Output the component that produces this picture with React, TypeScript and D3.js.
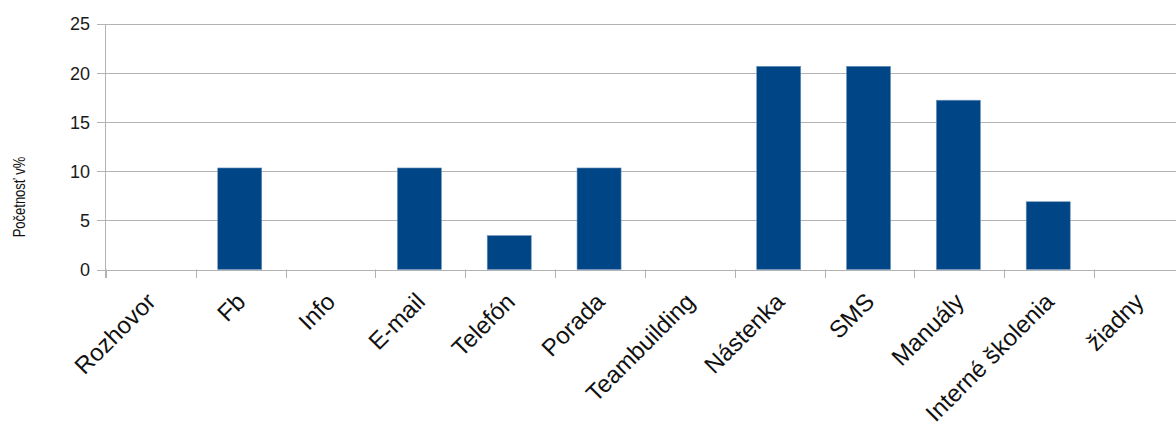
import React from "react";
import * as d3 from "d3";

const categories = ["Rozhovor", "Fb", "Info", "E-mail", "Telefón", "Porada", "Teambuilding", "Nástenka", "SMS", "Manuály", "Interné školenia", "žiadny"];
const values = [0, 10.34, 0, 10.34, 3.45, 10.34, 0, 20.69, 20.69, 17.24, 6.9, 0];
const yTicks = [0, 5, 10, 15, 20, 25];
const yTitle = "Početnosť v%";

const W = 1176;
const H = 428;
const left = 106;
const bandW = 89.83;
const top = 24;
const bottom = 269.5;

export default function App() {
  const x = d3.scaleBand<string>().domain(categories).range([left, left + bandW * categories.length]).paddingInner(0).paddingOuter(0);
  const y = d3.scaleLinear().domain([0, 25]).range([bottom, top]);
  const grid = "#b3b3b3";
  const font = "'Liberation Sans', Arial, sans-serif";
  const barW = x.bandwidth() * 0.49;
  const boundaries = categories.map((c) => x(c) as number).concat([left + bandW * categories.length]);
  return (
    <svg width={W} height={H} style={{ position: "absolute", left: 0, top: 0, display: "block" }} fontFamily={font}>
      <rect x={0} y={0} width={W} height={H} fill="#fff" />
      {yTicks.map((t) => (
        <g key={t}>
          <line x1={97} x2={W} y1={Math.round(y(t)) + 0.5} y2={Math.round(y(t)) + 0.5} stroke={grid} strokeWidth={1} />
          <text x={90} y={y(t)} dy="0.36em" textAnchor="end" fontSize={18} fill="#1a1a1a">{t}</text>
        </g>
      ))}
      <line x1={left - 0.5} x2={left - 0.5} y1={top} y2={bottom + 8.5} stroke={grid} strokeWidth={1} />
      {boundaries.map((b, i) => (
        <line key={i} x1={Math.round(b) + 0.5} x2={Math.round(b) + 0.5} y1={bottom} y2={bottom + 8.5} stroke={grid} strokeWidth={1} />
      ))}
      {categories.map((c, i) => {
        const cx = (x(c) as number) + x.bandwidth() / 2;
        const v = values[i];
        return v > 0 ? (
          <rect key={c} x={cx - barW / 2 - 1} y={y(v)} width={barW} height={y(0) - y(v)} fill="#004586" stroke="#6f93b8" strokeWidth={0.6} />
        ) : null;
      })}
      {categories.map((c) => {
        const cx = (x(c) as number) + x.bandwidth() / 2;
        const ax = cx - 6;
        const ay = 291;
        return (
          <text key={c} x={ax} y={ay} dy="0.72em" textAnchor="end" fontSize={24} fill="#111" transform={`rotate(-45, ${ax}, ${ay})`}>
            {c}
          </text>
        );
      })}
      <text x={0} y={0} dy="0.35em" textAnchor="middle" fontSize={13} fill="#111" transform={`translate(20, 197) scale(1.2, 1) rotate(-90)`}>{yTitle}</text>
    </svg>
  );
}
